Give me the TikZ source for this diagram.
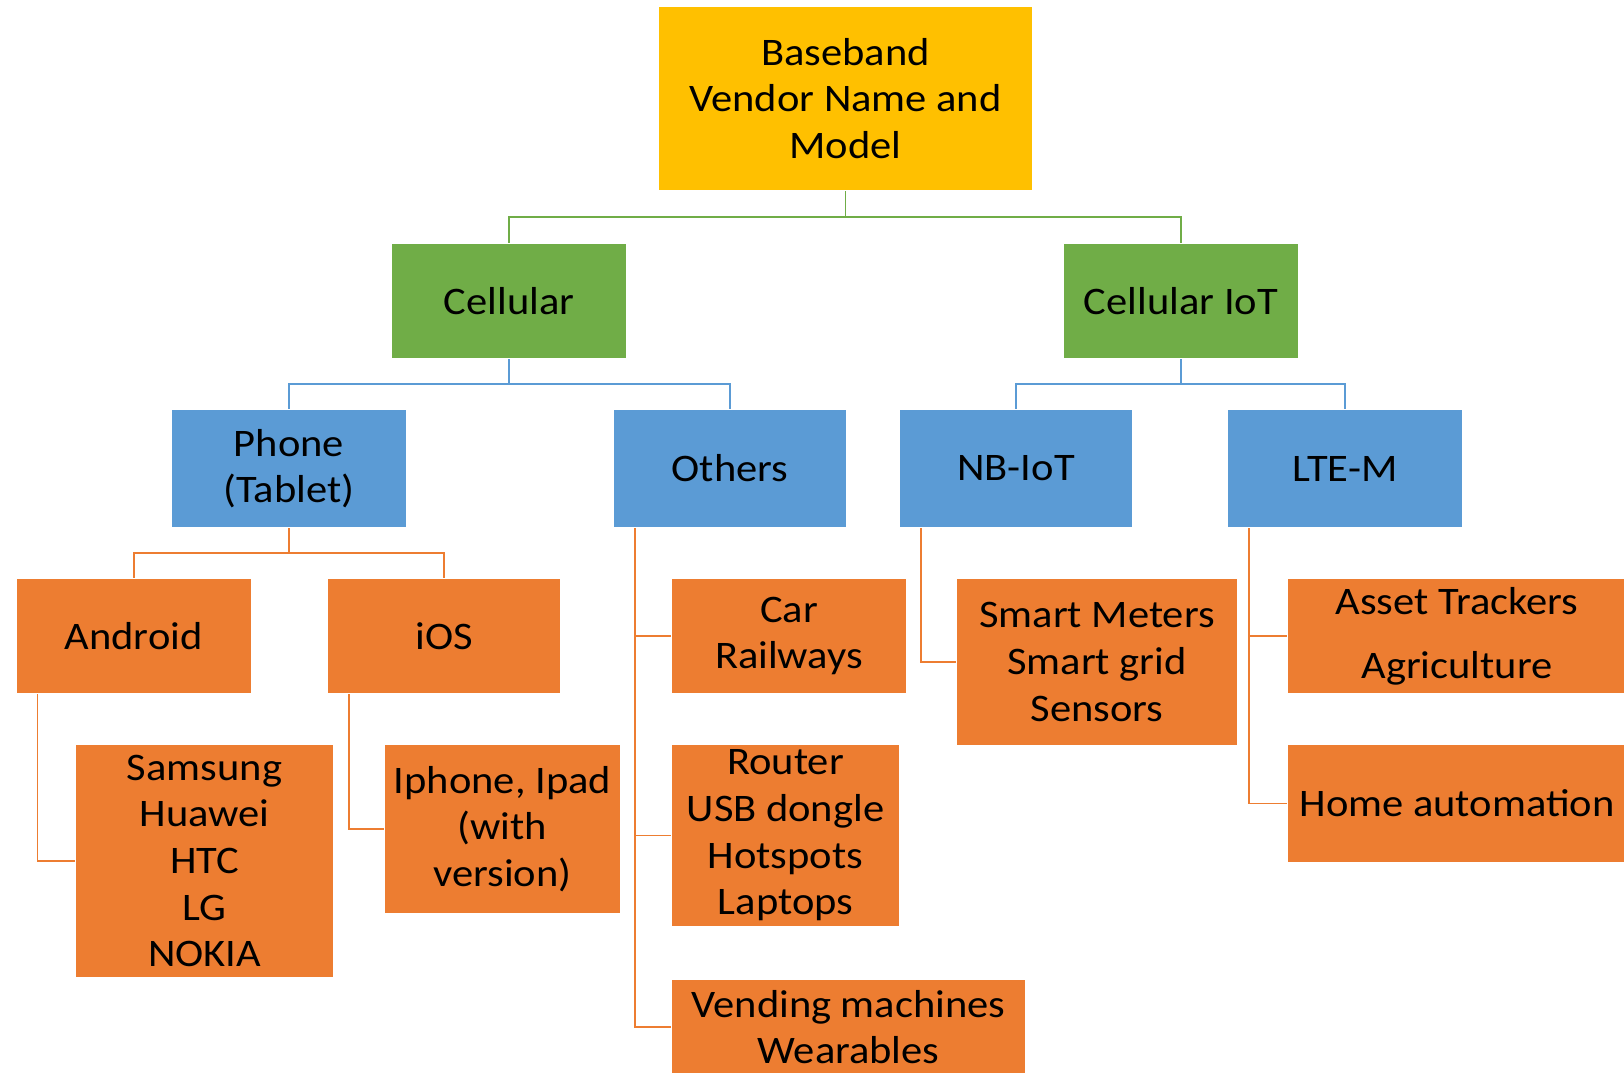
\documentclass[tikz,border=0pt]{standalone}
\usepackage{fontspec}
\setmainfont{Carlito}[FakeStretch=1.09]
\usetikzlibrary{calc}
\definecolor{gold}{HTML}{FFC000}
\definecolor{leaf}{HTML}{70AD47}
\definecolor{sky}{HTML}{5B9BD5}
\definecolor{tang}{HTML}{ED7D31}
\tikzstyle{box}=[rectangle, inner sep=0pt, outer sep=1.2pt, align=center, font=\fontsize{39}{46.6}\selectfont]
\tikzstyle{topbox}=[box, fill=gold]
\tikzstyle{midbox}=[box, fill=leaf]
\tikzstyle{lowbox}=[box, fill=sky]
\tikzstyle{leafbox}=[box, fill=tang]
\tikzstyle{gline}=[draw=leaf, line width=1.8pt]
\tikzstyle{bline}=[draw=sky, line width=1.8pt]
\tikzstyle{oline}=[draw=tang, line width=1.8pt]

\begin{document}
\begin{tikzpicture}[x=1pt, y=-1pt]
      \useasboundingbox (0,0) rectangle (1624,1072);
      \clip (0,0) rectangle (1624,1072);

      \node[topbox, minimum width=373, minimum height=183] (root) at (845.5,98.5) {Baseband\\Vendor Name and\\Model};

      \node[midbox, minimum width=234, minimum height=114] (cel) at (509,301) {Cellular};
      \node[midbox, minimum width=234, minimum height=114] (ciot) at (1181,301) {Cellular IoT};

      \node[lowbox, minimum width=234, minimum height=117] (phone) at (289,468.5) {Phone\\(Tablet)};
      \node[lowbox, minimum width=232, minimum height=117] (oth) at (730,468.5) {Others};
      \node[lowbox, minimum width=232, minimum height=117] (nb) at (1016,468.5) {NB-IoT};
      \node[lowbox, minimum width=234, minimum height=117] (ltem) at (1345,468.5) {LTE-M};

      \node[leafbox, minimum width=234, minimum height=114] (andr) at (133.6,636) {Android};
      \node[leafbox, minimum width=232, minimum height=114] (ios) at (444,636) {iOS};
      \node[leafbox, minimum width=257, minimum height=232] (sam) at (204.5,861) {Samsung\\Huawei\\HTC\\LG\\NOKIA};
      \node[leafbox, minimum width=235, minimum height=168] (iph) at (502.5,829) {Iphone, Ipad\\(with\\version)};

      \node[leafbox, minimum width=234, minimum height=114] (car) at (789,636) {Car\\Railways};
      \node[leafbox, minimum width=227, minimum height=181] (rou) at (785.5,835.5) {Router\\USB dongle\\Hotspots\\Laptops};
      \node[leafbox, minimum width=353, minimum height=94] (ven) at (848.5,1027) {Vending machines\\Wearables};

      \node[leafbox, minimum width=280, minimum height=166] (sma) at (1097,662) {Smart Meters\\Smart grid\\Sensors};

      \node[leafbox, minimum width=338, minimum height=114] (ass) at (1457,636) {Asset Trackers\\[17pt]Agriculture};
      \node[leafbox, minimum width=338, minimum height=117] (hom) at (1457,803.5) {Home automation};

      \draw[gline] (root.south) |- ($(root.south)!.5!(cel.north)$) -| (cel.north);
      \draw[gline] (root.south) |- ($(root.south)!.5!(ciot.north)$) -| (ciot.north);

      \draw[bline] (cel.south) |- ($(cel.south)!.5!(phone.north)$) -| (phone.north);
      \draw[bline] (cel.south) |- ($(cel.south)!.5!(oth.north)$) -| (oth.north);
      \draw[bline] (ciot.south) |- ($(ciot.south)!.5!(nb.north)$) -| (nb.north);
      \draw[bline] (ciot.south) |- ($(ciot.south)!.5!(ltem.north)$) -| (ltem.north);

      \draw[oline] (phone.south) |- ($(phone.south)!.5!(andr.north)$) -| (andr.north);
      \draw[oline] (phone.south) |- ($(phone.south)!.5!(ios.north)$) -| (ios.north);

      \draw[oline] ($(andr.south west)+(22,0)$) |- (sam.west);
      \draw[oline] ($(ios.south west)+(22,0)$) |- (iph.west);

      \draw[oline] ($(oth.south west)+(22,0)$) |- (car.west);
      \draw[oline] ($(oth.south west)+(22,0)$) |- (rou.west);
      \draw[oline] ($(oth.south west)+(22,0)$) |- (ven.west);

      \draw[oline] ($(nb.south west)+(22,0)$) |- (sma.west);

      \draw[oline] ($(ltem.south west)+(22,0)$) |- (ass.west);
      \draw[oline] ($(ltem.south west)+(22,0)$) |- (hom.west);
    \end{tikzpicture}
\end{document}
